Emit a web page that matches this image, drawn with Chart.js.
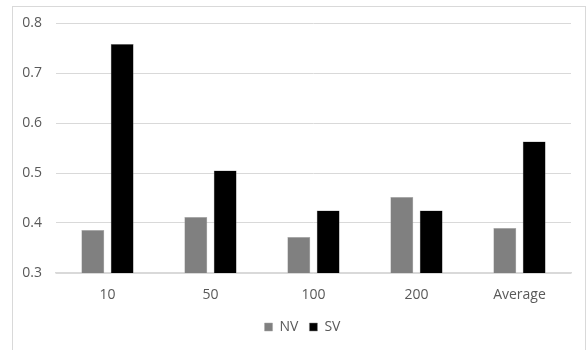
<!DOCTYPE html>
<html>
<head>
<meta charset="utf-8">
<script src="https://cdn.jsdelivr.net/npm/chart.js@4"></script>
<style>
  html, body { margin: 0; padding: 0; background: #ffffff; }
  #frame {
    position: absolute; left: 12px; top: 6px;
    width: 574px; height: 350px;
    border-left: 1px solid #d9d9d9; border-top: 1px solid #d9d9d9; border-right: 1px solid #d9d9d9;
    box-sizing: border-box;
  }
  #chart { display: block; }
</style>
</head>
<body>
<div id="frame"><canvas id="chart" width="572" height="349"></canvas></div>
<script>
// Categories and series
const categories = ['10', '50', '100', '200', 'Average'];
const nvValues = [0.386, 0.412, 0.372, 0.452, 0.390];
const svValues = [0.758, 0.505, 0.425, 0.425, 0.563];
const yTicks = [0.3, 0.4, 0.5, 0.6, 0.7, 0.8];

const textColor = '#595959';
const gridColor = '#d9d9d9';
const fontFamily = "'Open Sans', 'Noto Sans', sans-serif";

// Nudge the legend so it sits centred under the plot area rather than the whole canvas
const legendNudge = {
  id: 'legendNudge',
  afterLayout(chart) {
    const lg = chart.legend;
    const dx = (chart.chartArea.left + chart.chartArea.right) / 2 - (lg.left + lg.right) / 2 - 11;
    lg.left += dx;
    lg.right += dx;
  }
};

new Chart(document.getElementById('chart'), {
  type: 'bar',
  data: {
    labels: categories,
    datasets: [
      { label: 'NV', data: nvValues, backgroundColor: '#808080', borderColor: '#a6a6a6', borderWidth: 0.5 },
      { label: 'SV', data: svValues, backgroundColor: '#000000', borderColor: '#7f7f7f', borderWidth: 0.5 }
    ]
  },
  plugins: [legendNudge],
  options: {
    responsive: false,
    animation: false,
    datasets: { bar: { categoryPercentage: 0.57, barPercentage: 0.78 } },
    layout: { padding: { left: 0, right: 14, top: 16, bottom: 12 } },
    plugins: {
      legend: {
        position: 'bottom',
        labels: {
          color: textColor,
          font: { family: fontFamily, size: 14 },
          boxWidth: 8, boxHeight: 8, padding: 11
        }
      },
      tooltip: { enabled: false }
    },
    scales: {
      x: {
        grid: { display: false },
        border: { color: gridColor, width: 1.5 },
        ticks: { color: textColor, font: { family: fontFamily, size: 14 }, padding: 6 },
        afterFit: s => { s.height = 36; }
      },
      y: {
        min: 0.3, max: 0.8,
        afterBuildTicks: s => { s.ticks = yTicks.map(v => ({ value: v })); },
        grid: { color: gridColor, drawTicks: false, lineWidth: 1 },
        border: { display: false },
        ticks: {
          color: textColor, font: { family: fontFamily, size: 14 }, padding: 14,
          callback: v => v.toFixed(1)
        },
        // fixed axis width; no extra room reserved for the end labels
        afterFit: s => { s.width = 43; s.paddingTop = 0; s.paddingBottom = 0; }
      }
    }
  }
});
</script>
</body>
</html>
